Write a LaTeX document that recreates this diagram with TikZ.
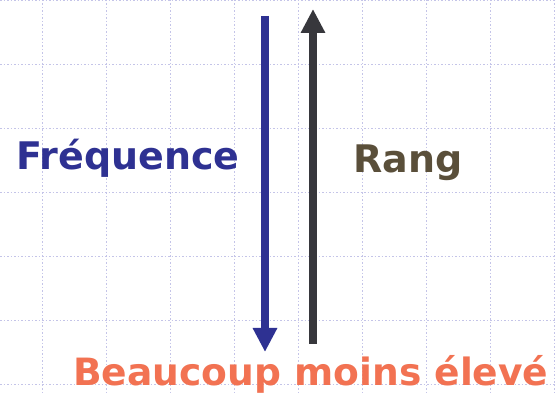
\documentclass[tikz,border=0pt]{standalone}
\usepackage{fontspec}
\setmainfont{DejaVu Sans}
\usetikzlibrary{arrows.meta}
\definecolor{gridc}{RGB}{196,196,232}
\definecolor{freqc}{RGB}{46,49,146}
\definecolor{rangc}{RGB}{90,79,58}
\definecolor{arrc}{RGB}{55,55,60}
\definecolor{beauc}{RGB}{242,114,82}
\tikzset{
  gridline/.style={draw=gridc, line width=1.2pt, dash pattern=on 1.5pt off 2pt},
  lbl/.style={inner sep=0pt, anchor=base west, font=\bfseries},
  bigarrow/.style={line width=8pt, -{Triangle[width=23pt,length=24pt]}},
}
\begin{document}
\begin{tikzpicture}[x=1pt,y=-1pt]
\useasboundingbox (0,0) rectangle (555,395);
\fill[white] (0,0) rectangle (555,395);
\foreach \i in {0,...,8} {
  \draw[gridline] ({42.7+64*\i},0) -- ({42.7+64*\i},395);
}
\foreach \j in {0,...,6} {
  \draw[gridline] (0,{0.5+64*\j}) -- (555,{0.5+64*\j});
}
\coordinate (fa) at (265,16);
\coordinate (fb) at (265,352);
\coordinate (ra) at (313,344);
\coordinate (rb) at (313,9);
\draw[bigarrow, freqc] (fa) -- (fb);
\draw[bigarrow, arrc] (ra) -- (rb);
\node[lbl, text=freqc, font=\bfseries\fontsize{38}{44}\selectfont] (freq) at (16,170) {Fréquence};
\node[lbl, text=rangc, font=\bfseries\fontsize{38}{44}\selectfont] (rang) at (353,173) {Rang};
\node[lbl, text=beauc, font=\bfseries\fontsize{37.6}{44}\selectfont] (beau) at (73,386) {Beaucoup moins élevé};
\end{tikzpicture}
\end{document}
